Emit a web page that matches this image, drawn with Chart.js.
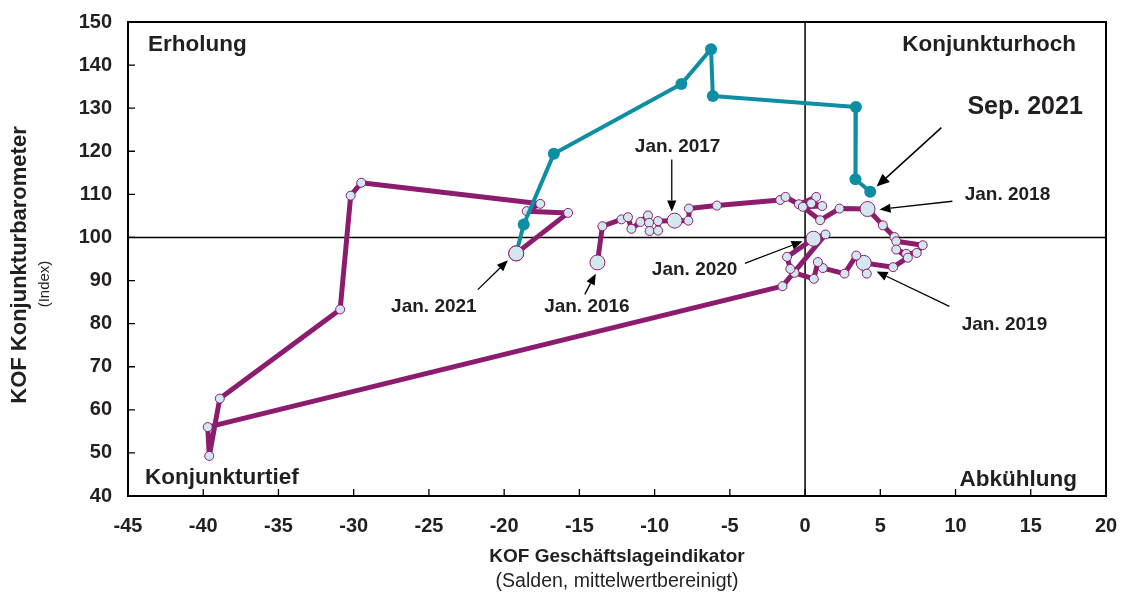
<!DOCTYPE html>
<html>
<head>
<meta charset="utf-8">
<script src="https://cdn.jsdelivr.net/npm/chart.js@4.4.1/dist/chart.umd.min.js"></script>
<style>
  body { margin: 0; background: #fff; }
  canvas { display: block; }
</style>
</head>
<body>
<canvas id="kofChart" width="1123" height="596"></canvas>
<script>
// Jan 2016 - Jan 2021, monthly (geschaeftslage, barometer)
var purpleX = [-13.8, -13.47, -12.2, -11.77, -11.54, -10.94, -10.44, -10.37, -10.33, -9.77, -9.77,
  -8.67, -7.76, -7.72, -5.86, -1.65, -1.3, -0.41, 0.74, 0.41, 1.14, -0.15, 1.0, 2.29,
  4.15, 5.17, 5.94, 6.06, 7.82, 7.42, 6.72, 6.06, 6.83, 5.85,
  3.9, 4.1, 3.4, 2.62, 1.18, 0.85, 0.58, -0.7, -0.98, -1.2,
  0.56, 1.36, -1.5, -39.7, -39.6, -38.9, -30.9, -30.2, -29.5, -17.6, -18.5, -15.75,
  -19.2];
var purpleY = [94.2, 102.6, 104.2, 104.7, 102.0, 103.6, 105.1, 103.4, 101.5, 101.6, 103.8,
  103.9, 103.9, 106.7, 107.4, 108.7, 109.4, 107.7, 109.4, 107.9, 107.3, 107.1, 104.0, 106.7,
  106.6, 102.8, 100.1, 99.1, 98.2, 96.4, 96.2, 97.2, 95.3, 93.1,
  94.1, 91.6, 95.8, 91.6, 92.9, 94.3, 90.4, 91.8, 92.7, 95.5,
  99.7, 100.7, 88.7, 56.0, 49.3, 62.6, 83.3, 109.7, 112.7, 107.8, 106.1, 105.7,
  96.3];
// january points (drawn bigger)
var janIdx = [0, 11, 24, 34, 44, 56];

// Feb 2021 - Sep 2021
var tealX = [-18.7, -16.7, -8.22, -6.25, -6.13, 3.38, 3.35, 4.33];
var tealY = [103.0, 119.4, 135.6, 143.7, 132.8, 130.3, 113.5, 110.6];

var xTicks = [-45, 20, 5];
var yTicks = [40, 150, 10];

var purple = '#8c1c6e';
var teal = '#0e8ea2';
var dotFill = '#d2e7ee';
var ink = '#231f20';
var fontFam = '"Liberation Sans", Arial, sans-serif';

// labels + arrows, in data units
var notes = [
  { text: 'Sep. 2021', x: 10.79, y: 130.2, size: 25, align: 'left', from: [9.06, 125.5], to: [4.75, 111.8] },
  { text: 'Jan. 2017', x: -8.47, y: 121.1, size: 19, align: 'center', from: [-8.86, 118.1], to: [-8.86, 106.0] },
  { text: 'Jan. 2018', x: 13.45, y: 110.0, size: 19, align: 'center', from: [9.79, 108.4], to: [4.95, 106.5] },
  { text: 'Jan. 2020', x: -7.34, y: 92.6, size: 19, align: 'center', from: [-4.0, 94.0], to: [-0.17, 99.1] },
  { text: 'Jan. 2021', x: -24.67, y: 84.0, size: 19, align: 'center', from: [-21.75, 87.9], to: [-19.75, 94.7] },
  { text: 'Jan. 2016', x: -14.5, y: 84.0, size: 19, align: 'center', from: [-14.64, 86.8], to: [-13.91, 91.6] },
  { text: 'Jan. 2019', x: 13.25, y: 79.8, size: 19, align: 'center', from: [9.59, 84.0], to: [4.75, 92.1] }
];

function toPoints(xs, ys) {
  var pts = [];
  for (var i = 0; i < xs.length; i++) {
    pts.push({ x: xs[i], y: ys[i] });
  }
  return pts;
}

var last = purpleX.length - 1;
var tealPts = [{ x: purpleX[last], y: purpleY[last] }].concat(toPoints(tealX, tealY));

function drawArrow(ctx, x1, y1, x2, y2, head) {
  var a = Math.atan2(y2 - y1, x2 - x1);
  var c = Math.cos(a), s = Math.sin(a);
  ctx.beginPath();
  ctx.moveTo(x1, y1);
  ctx.lineTo(x2 - head * c, y2 - head * s);
  ctx.stroke();
  ctx.beginPath();
  ctx.moveTo(x2, y2);
  ctx.lineTo(x2 - head * c + head * 0.42 * s, y2 - head * s - head * 0.42 * c);
  ctx.lineTo(x2 - head * c - head * 0.42 * s, y2 - head * s + head * 0.42 * c);
  ctx.closePath();
  ctx.fill();
}

// frame, inner ticks, cross lines, texts
var decor = {
  id: 'decor',
  beforeDatasetsDraw: function (chart) {
    var ctx = chart.ctx, a = chart.chartArea;
    var sx = chart.scales.x, sy = chart.scales.y;
    ctx.save();
    ctx.strokeStyle = '#000';
    ctx.lineWidth = 1.5;
    var x0 = sx.getPixelForValue(0), y100 = sy.getPixelForValue(100);
    ctx.beginPath();
    ctx.moveTo(x0, a.top); ctx.lineTo(x0, a.bottom);
    ctx.moveTo(a.left, y100); ctx.lineTo(a.right, y100);
    ctx.stroke();
    ctx.restore();
  },
  afterDatasetsDraw: function (chart) {
    var ctx = chart.ctx, a = chart.chartArea;
    var sx = chart.scales.x, sy = chart.scales.y;
    ctx.save();
    ctx.strokeStyle = '#000';
    ctx.lineWidth = 2;
    ctx.strokeRect(a.left, a.top, a.right - a.left, a.bottom - a.top);

    // ticks pointing inward
    ctx.lineWidth = 1.3;
    ctx.beginPath();
    for (var v = xTicks[0] + xTicks[2]; v < xTicks[1]; v += xTicks[2]) {
      var px = sx.getPixelForValue(v);
      ctx.moveTo(px, a.bottom); ctx.lineTo(px, a.bottom - 7);
    }
    for (var w = yTicks[0] + yTicks[2]; w < yTicks[1]; w += yTicks[2]) {
      var py = sy.getPixelForValue(w);
      ctx.moveTo(a.left, py); ctx.lineTo(a.left + 7, py);
    }
    ctx.stroke();

    // quadrant names
    ctx.fillStyle = ink;
    ctx.font = 'bold 22.5px ' + fontFam;
    ctx.textBaseline = 'middle';
    ctx.textAlign = 'left';
    ctx.fillText('Erholung', a.left + 20, a.top + 23);
    ctx.fillText('Konjunkturtief', a.left + 17, a.bottom - 18);
    ctx.textAlign = 'right';
    ctx.fillText('Konjunkturhoch', a.right - 30, a.top + 23);
    ctx.fillText('Abkühlung', a.right - 29, a.bottom - 16);

    // annotations
    for (var i = 0; i < notes.length; i++) {
      var n = notes[i];
      ctx.fillStyle = ink;
      ctx.font = 'bold ' + n.size + 'px ' + fontFam;
      ctx.textAlign = n.align;
      ctx.fillText(n.text, sx.getPixelForValue(n.x), sy.getPixelForValue(n.y));
      ctx.lineWidth = n.size > 20 ? 1.5 : 1.3;
      ctx.fillStyle = '#000';
      drawArrow(ctx, sx.getPixelForValue(n.from[0]), sy.getPixelForValue(n.from[1]),
        sx.getPixelForValue(n.to[0]), sy.getPixelForValue(n.to[1]), n.size > 20 ? 13 : 11);
    }

    // axis titles
    var cx = (a.left + a.right) / 2;
    ctx.fillStyle = ink;
    ctx.textAlign = 'center';
    ctx.font = 'bold 19px ' + fontFam;
    ctx.fillText('KOF Geschäftslageindikator', cx, 557);
    ctx.font = '19.5px ' + fontFam;
    ctx.fillText('(Salden, mittelwertbereinigt)', cx, 582);
    ctx.save();
    ctx.translate(20, 265);
    ctx.rotate(-Math.PI / 2);
    ctx.font = 'bold 22px ' + fontFam;
    ctx.fillText('KOF Konjunkturbarometer', 0, 0);
    ctx.restore();
    ctx.translate(45, 284);
    ctx.rotate(-Math.PI / 2);
    ctx.font = '15px ' + fontFam;
    ctx.fillText('(Index)', 0, 0);
    ctx.restore();
  }
};

var tickFont = { family: fontFam, size: 20, weight: 'bold' };

new Chart(document.getElementById('kofChart').getContext('2d'), {
  type: 'scatter',
  data: {
    datasets: [
      {
        data: tealPts,
        showLine: true,
        borderColor: teal,
        borderWidth: 4,
        borderJoinStyle: 'round',
        borderCapStyle: 'round',
        pointRadius: function (c) { return c.dataIndex === 0 ? 0 : 6; },
        pointBackgroundColor: teal,
        pointBorderColor: teal,
        pointBorderWidth: 0,
        order: 2
      },
      {
        data: toPoints(purpleX, purpleY),
        showLine: true,
        borderColor: purple,
        borderWidth: 5,
        borderJoinStyle: 'round',
        borderCapStyle: 'round',
        pointRadius: function (c) { return janIdx.indexOf(c.dataIndex) >= 0 ? 7.5 : 4.5; },
        pointBackgroundColor: dotFill,
        pointBorderColor: purple,
        pointBorderWidth: 1,
        order: 3
      },
      {
        // jan 2021 dot on top of the teal start
        data: [{ x: purpleX[last], y: purpleY[last] }],
        showLine: false,
        pointRadius: 7.5,
        pointBackgroundColor: dotFill,
        pointBorderColor: purple,
        pointBorderWidth: 1,
        order: 1
      }
    ]
  },
  options: {
    responsive: false,
    animation: false,
    layout: { padding: { top: 22, right: 17, left: 0, bottom: 0 } },
    plugins: { legend: { display: false }, tooltip: { enabled: false } },
    scales: {
      x: {
        type: 'linear',
        min: xTicks[0],
        max: xTicks[1],
        ticks: { stepSize: xTicks[2], font: tickFont, color: ink, padding: 18, maxRotation: 0 },
        grid: { display: false, drawTicks: false },
        border: { display: false },
        afterFit: function (s) { s.height = 100; s.paddingLeft = 0; s.paddingRight = 0; }
      },
      y: {
        min: yTicks[0],
        max: yTicks[1],
        ticks: { stepSize: yTicks[2], font: tickFont, color: ink, padding: 16 },
        grid: { display: false, drawTicks: false },
        border: { display: false },
        afterFit: function (s) { s.width = 128; s.paddingTop = 0; s.paddingBottom = 0; }
      }
    }
  },
  plugins: [decor]
});
</script>
</body>
</html>
